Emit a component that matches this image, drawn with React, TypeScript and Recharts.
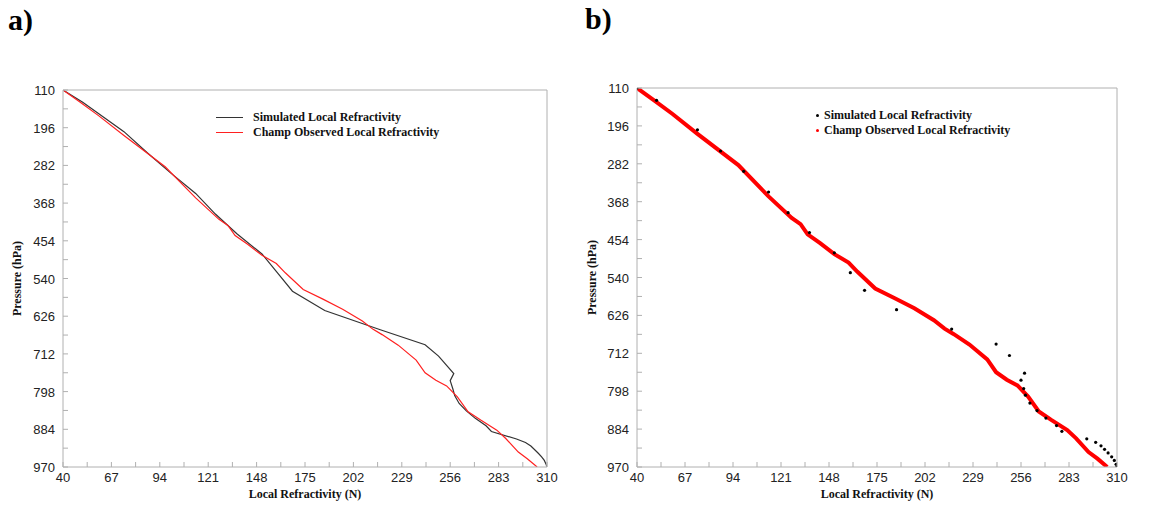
import React from 'react';
import { ComposedChart, Line, Scatter, XAxis, YAxis } from 'recharts';

// simulated local refractivity profile (N vs pressure hPa)
const simulatedN = [40, 51, 74, 87, 100, 114, 125, 137, 151, 160, 168, 186, 217, 242, 249.5, 258, 256, 257.5, 258.5, 261, 265, 270, 276, 279, 293, 298, 301, 303, 305, 307, 308.5, 309.5, 310];
const simulatedP = [110, 138, 205, 253, 299, 346, 393, 438, 484, 529, 569, 613, 657, 691, 717, 757, 773, 792, 807, 825, 842, 859, 876, 889, 906, 914, 922, 930, 938, 947, 955, 964, 970];

// CHAMP observed local refractivity
const observedN = [40, 50, 60, 74, 97, 114, 127, 132, 136, 143, 151, 159, 164, 174, 185, 196, 207, 213, 218, 227, 237, 242, 248, 254, 260, 266, 273, 282, 287, 294, 299, 304.5];
const observedP = [110, 139, 169, 214, 285, 356, 405, 419, 442, 462, 487, 506, 527, 565, 587, 610, 637, 656, 668, 692, 726, 755, 772, 785, 810, 844, 863, 886, 905, 936, 951, 970];

const xMajor = [40, 67, 94, 121, 148, 175, 202, 229, 256, 283, 310];
const yMajor = [110, 196, 282, 368, 454, 540, 626, 712, 798, 884, 970];

const withMinor = (major: number[]) => {
  const out: number[] = [];
  major.forEach((v, i) => {
    out.push(v);
    if (i < major.length - 1) out.push((v + major[i + 1]) / 2);
  });
  return out;
};
const xTicks = withMinor(xMajor);
const yTicks = withMinor(yMajor);

const simulated = simulatedN.map((n, i) => ({ n, p: simulatedP[i] }));
const observed = observedN.map((n, i) => ({ n, p: observedP[i] }));

const axisColor = '#b0b0b0';
const tickFont = { fontFamily: '"Liberation Sans", Arial, sans-serif', fontSize: 13, fill: '#222' };
const serifBold = '"Liberation Serif", "Times New Roman", serif';

const BottomTick = (props: any) => {
  const { x, y, payload } = props;
  const major = xMajor.includes(payload.value);
  return (
    <g>
      <line x1={x} y1={y} x2={x} y2={y - 5} stroke={axisColor} />
      {major && <text x={x} y={y + 15} textAnchor="middle" {...tickFont}>{payload.value}</text>}
    </g>
  );
};
const TopTick = (props: any) => {
  const { x, y } = props;
  return <line x1={x} y1={y} x2={x} y2={y + 5} stroke={axisColor} />;
};
const LeftTick = (props: any) => {
  const { x, y, payload } = props;
  const major = yMajor.includes(payload.value);
  return (
    <g>
      <line x1={x} y1={y} x2={x + 5} y2={y} stroke={axisColor} />
      {major && <text x={x - 8} y={y + 5} textAnchor="end" {...tickFont}>{payload.value}</text>}
    </g>
  );
};
const RightTick = (props: any) => {
  const { x, y } = props;
  return <line x1={x} y1={y} x2={x - 5} y2={y} stroke={axisColor} />;
};

const labelStyle = { fontFamily: serifBold, fontWeight: 'bold', fontSize: 12, fill: '#111' };

// axes are 1px wide/high: recharts skips drawing an axis of size 0
const renderAxes = (labelOffset: number) => [
  <XAxis key="xb" type="number" dataKey="n" domain={[40, 310]} ticks={xTicks} interval={0}
    allowDataOverflow height={1} tickSize={0} tickMargin={0} tick={BottomTick}
    axisLine={{ stroke: axisColor }} tickLine={false}
    label={{ value: 'Local Refractivity (N)', position: 'bottom', offset: 21, style: labelStyle }} />,
  <XAxis key="xt" xAxisId="top" orientation="top" type="number" domain={[40, 310]} ticks={xTicks} interval={0}
    height={1} tickSize={0} tickMargin={0} tick={TopTick} axisLine={{ stroke: axisColor }} tickLine={false} />,
  <YAxis key="yl" type="number" dataKey="p" domain={[110, 970]} reversed ticks={yTicks} interval={0}
    allowDataOverflow width={1} tickSize={0} tickMargin={0} tick={LeftTick}
    axisLine={{ stroke: axisColor }} tickLine={false}
    label={{ value: 'Pressure (hPa)', angle: -90, position: 'left', offset: labelOffset, style: { ...labelStyle, textAnchor: 'middle' } }} />,
  <YAxis key="yr" yAxisId="right" orientation="right" type="number" domain={[110, 970]} reversed ticks={yTicks} interval={0}
    width={1} tickSize={0} tickMargin={0} tick={RightTick} axisLine={{ stroke: axisColor }} tickLine={false} />,
];

const Dot = (props: any) => <circle cx={props.cx} cy={props.cy} r={1.6} fill="#000" />;

const legendText: React.CSSProperties = { fontFamily: serifBold, fontWeight: 'bold', fontSize: 12, color: '#111', whiteSpace: 'nowrap' };

export default function App() {
  return (
    <div style={{ position: 'absolute', left: 0, top: 0, width: 1154, height: 507, background: '#fff' }}>
      <div style={{ position: 'absolute', left: 8, top: 5, fontFamily: serifBold, fontWeight: 'bold', fontSize: 30, lineHeight: '30px' }}>a)</div>
      <div style={{ position: 'absolute', left: 585, top: 4, fontFamily: serifBold, fontWeight: 'bold', fontSize: 30, lineHeight: '30px' }}>b)</div>

      <div style={{ position: 'absolute', left: 0, top: 0 }}>
        <ComposedChart width={577} height={507} margin={{ top: 89, left: 62, right: 29, bottom: 39 }}>
          {renderAxes(45)}
          <Line data={simulated} dataKey="p" stroke="#333" strokeWidth={1.2} dot={false} isAnimationActive={false} />
          <Line data={observed} dataKey="p" stroke="#ff2020" strokeWidth={1.2} dot={false} isAnimationActive={false} />
        </ComposedChart>
      </div>

      <div style={{ position: 'absolute', left: 577, top: 0 }}>
        <ComposedChart width={577} height={507} margin={{ top: 87, left: 59, right: 36, bottom: 39 }}>
          {renderAxes(44)}
          <Line data={observed} dataKey="p" stroke="#ff0000" strokeWidth={4} dot={false} isAnimationActive={false} />
          <Scatter data={simulated} dataKey="p" shape={Dot} isAnimationActive={false} />
        </ComposedChart>
      </div>

      {/* legend panel a */}
      <div style={{ position: 'absolute', left: 216, top: 110 }}>
        <div style={{ display: 'flex', alignItems: 'center', height: 15 }}>
          <div style={{ width: 27, height: 0, borderTop: '1.2px solid #333', marginRight: 10 }} />
          <span style={legendText}>Simulated Local Refractivity</span>
        </div>
        <div style={{ display: 'flex', alignItems: 'center', height: 15 }}>
          <div style={{ width: 27, height: 0, borderTop: '1.2px solid #ff2020', marginRight: 10 }} />
          <span style={legendText}>Champ Observed Local Refractivity</span>
        </div>
      </div>

      {/* legend panel b */}
      <div style={{ position: 'absolute', left: 816, top: 108 }}>
        <div style={{ display: 'flex', alignItems: 'center', height: 15 }}>
          <div style={{ width: 3, height: 3, borderRadius: 2, background: '#000', marginRight: 5 }} />
          <span style={legendText}>Simulated Local Refractivity</span>
        </div>
        <div style={{ display: 'flex', alignItems: 'center', height: 15 }}>
          <div style={{ width: 3, height: 3, borderRadius: 2, background: '#f00', marginRight: 5 }} />
          <span style={legendText}>Champ Observed Local Refractivity</span>
        </div>
      </div>
    </div>
  );
}
